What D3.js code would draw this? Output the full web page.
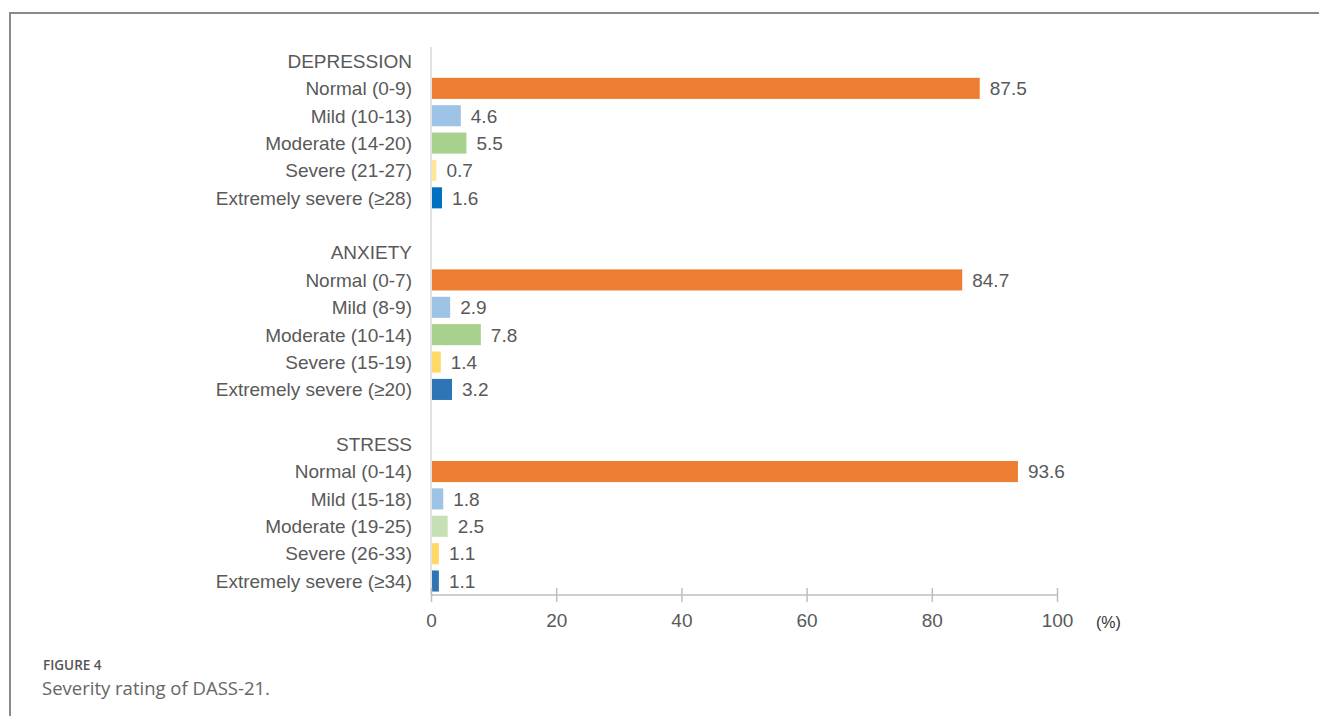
<!DOCTYPE html>
<html><head><meta charset="utf-8">
<script src="https://cdn.jsdelivr.net/npm/d3@7"></script>
<style>
body{margin:0;background:#fff;}
svg{display:block;}
</style></head>
<body>
<svg id="c" width="1319" height="716"></svg>
<script>
const groups = ["DEPRESSION","ANXIETY","STRESS"];
const depressionLabels = ["Normal (0-9)","Mild (10-13)","Moderate (14-20)","Severe (21-27)","Extremely severe (≥28)"];
const anxietyLabels = ["Normal (0-7)","Mild (8-9)","Moderate (10-14)","Severe (15-19)","Extremely severe (≥20)"];
const stressLabels = ["Normal (0-14)","Mild (15-18)","Moderate (19-25)","Severe (26-33)","Extremely severe (≥34)"];
const depressionValues = [87.5,4.6,5.5,0.7,1.6];
const anxietyValues = [84.7,2.9,7.8,1.4,3.2];
const stressValues = [93.6,1.8,2.5,1.1,1.1];
const xTicks = [0,20,40,60,80,100];
const depressionColors = ["#ED7D31","#9DC3E6","#A9D18E","#FFE699","#0070C0"];
const anxietyColors = ["#ED7D31","#9DC3E6","#A9D18E","#FFD966","#2E75B6"];
const stressColors = ["#ED7D31","#9DC3E6","#C5E0B4","#FFD966","#2E75B6"];

const labelsAll=[depressionLabels,anxietyLabels,stressLabels];
const valuesAll=[depressionValues,anxietyValues,stressValues];
const colorsAll=[depressionColors,anxietyColors,stressColors];
const rows=[];
groups.forEach((g,gi)=>{
  if(gi>0) rows.push({id:"blank"+gi,label:"",type:"blank"});
  rows.push({id:g,label:g,type:"header"});
  labelsAll[gi].forEach((l,i)=>rows.push({id:g+i,label:l,type:"bar",value:valuesAll[gi][i],color:colorsAll[gi][i]}));
});

const svg=d3.select("#c");
// frame
svg.append("path").attr("d","M10,716 V13 H1319").attr("fill","none").attr("stroke","#8a8a8a").attr("stroke-width",2);

const x=d3.scaleLinear().domain([0,100]).range([431,1057]);
const y=d3.scaleBand().domain(rows.map(r=>r.id)).range([47.3,594.7]).paddingInner(0.23).paddingOuter(0.115);
const font="'Liberation Sans',Arial,sans-serif";
const txt="#595959";

// vertical axis line
svg.append("line").attr("x1",x(0)).attr("x2",x(0)).attr("y1",47).attr("y2",595).attr("stroke","#d9d9d9").attr("stroke-width",1.5);

const bars=rows.filter(r=>r.type==="bar");
svg.selectAll("rect.bar").data(bars).join("rect").attr("class","bar")
  .attr("x",x(0)+1).attr("y",d=>y(d.id)).attr("height",y.bandwidth())
  .attr("width",d=>x(d.value)-x(0)).attr("fill",d=>d.color);

svg.selectAll("text.val").data(bars).join("text").attr("class","val")
  .attr("x",d=>x(d.value)+11).attr("y",d=>y(d.id)+y.bandwidth()/2).attr("dy","0.36em")
  .attr("font-family",font).attr("font-size",19).attr("fill",txt).text(d=>d.value.toFixed(1));

svg.selectAll("text.cat").data(rows.filter(r=>r.type!=="blank")).join("text").attr("class","cat")
  .attr("x",x(0)-19).attr("y",d=>y(d.id)+y.bandwidth()/2).attr("dy","0.36em").attr("text-anchor","end")
  .attr("font-family",font).attr("font-size",19).attr("fill",txt).text(d=>d.label);

// x axis
const ax=svg.append("g").attr("transform","translate(0,595)")
  .call(d3.axisBottom(x).tickValues(xTicks).tickSize(7).tickPadding(12).tickFormat(d3.format("d")));
ax.select(".domain").attr("stroke","#bfbfbf").attr("stroke-width",1.5).attr("d",`M${x(0)},0H${x(100)}`);
ax.selectAll(".tick line").attr("stroke","#bfbfbf").attr("stroke-width",1.5).attr("y1",-7).attr("y2",7);
ax.selectAll(".tick text").attr("font-family",font).attr("font-size",19).attr("fill",txt);
svg.append("text").attr("x",1096).attr("y",628).attr("font-family",font).attr("font-size",16).attr("fill","#333").text("(%)");

// caption
svg.append("text").attr("x",43).attr("y",670).attr("font-family","'Open Sans',sans-serif").attr("font-size",13.5).attr("font-weight",600).attr("fill","#555").text("FIGURE 4");
svg.append("text").attr("x",42).attr("y",695).attr("font-family","'Open Sans',sans-serif").attr("font-size",18.5).attr("fill","#666").text("Severity rating of DASS-21.");
</script>
</body></html>
